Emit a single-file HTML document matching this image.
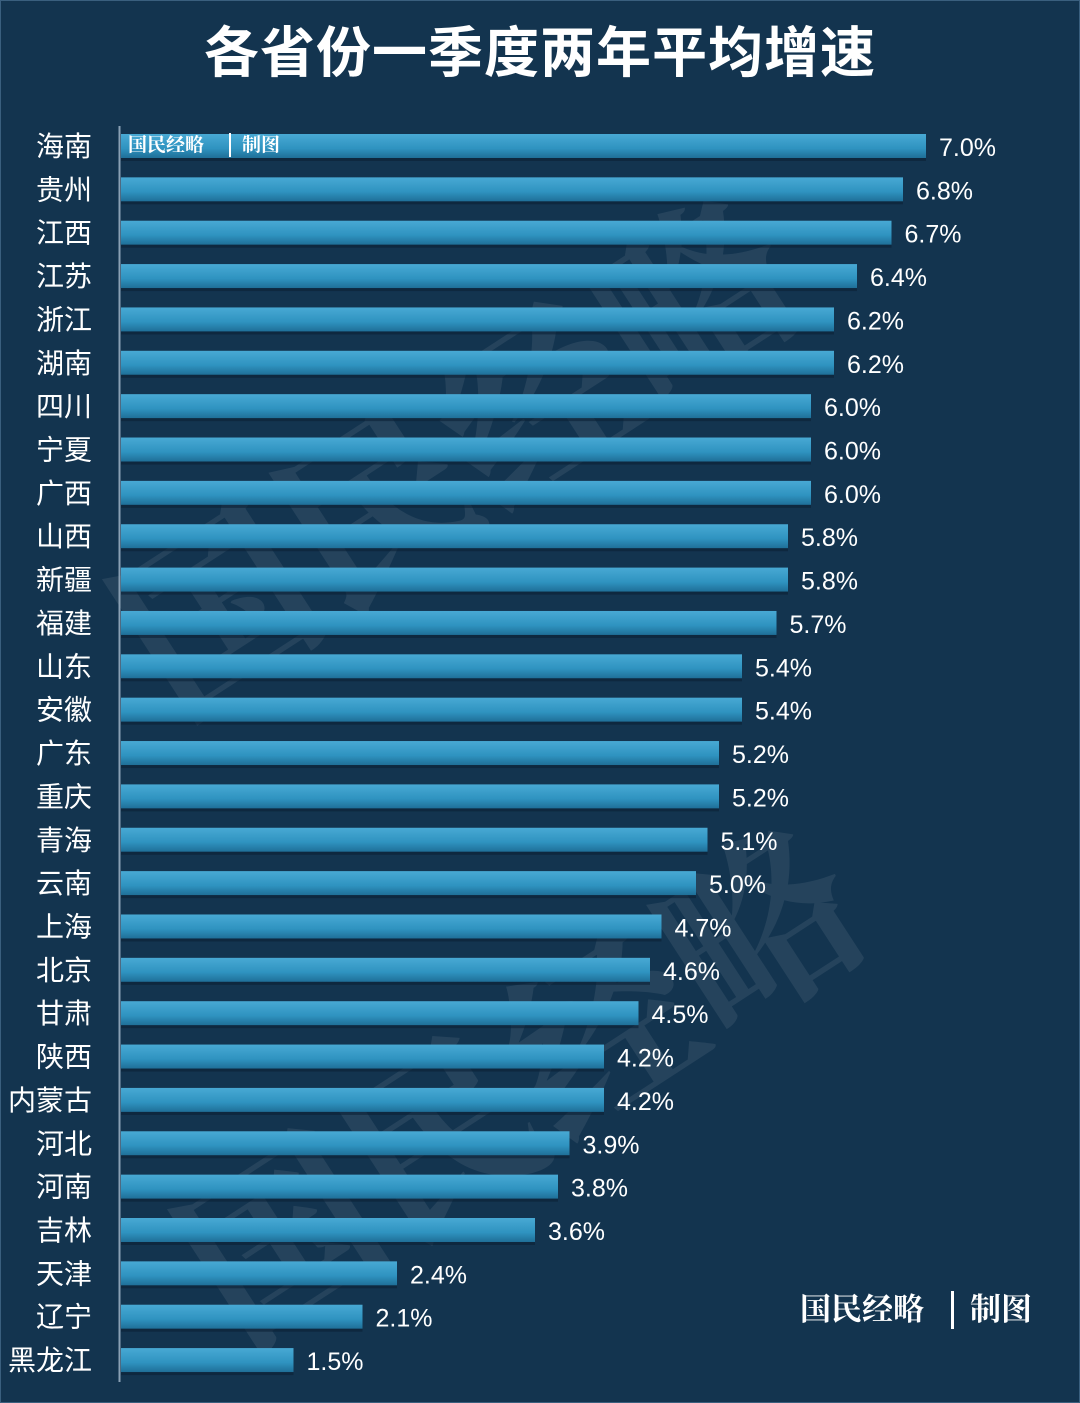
<!DOCTYPE html><html><head><meta charset="utf-8"><style>
body{margin:0;background:#13344f;}
svg{display:block}
</style></head><body>
<svg width="1080" height="1403" xmlns="http://www.w3.org/2000/svg" font-family="Liberation Sans, Noto Sans CJK SC, sans-serif">
<defs><linearGradient id="g" x1="0" y1="0" x2="0" y2="1"><stop offset="0" stop-color="#48a9d4"/><stop offset="0.6" stop-color="#2f93c0"/><stop offset="1" stop-color="#1f6f98"/></linearGradient></defs>
<rect width="1080" height="1403" fill="#13344f"/>
<rect x="0.5" y="0.5" width="1079" height="1402" fill="none" stroke="#3a5f7e"/>
<text x="540" y="72" text-anchor="middle" font-size="55" font-weight="bold" fill="#fff" font-family="Noto Sans CJK SC, sans-serif" letter-spacing="1">各省份一季度两年平均增速</text>
<g font-family="Noto Serif CJK SC, serif" font-weight="bold" fill="#fff" fill-opacity="0.08" font-size="190">
<text transform="translate(175,720) rotate(-33)">国民经略</text>
<text transform="translate(240,1350) rotate(-33)">国民经略</text>
</g>
<line x1="119.5" y1="126" x2="119.5" y2="1382" stroke="#8aa0b4" stroke-width="2"/>
<g id="bars"></g>
<text x="128" y="151" font-size="19" font-weight="bold" fill="#fff" font-family="Noto Serif CJK SC, serif">国民经略</text>
<rect x="229" y="133" width="2" height="24" fill="#fff"/>
<text x="242" y="151" font-size="19" font-weight="bold" fill="#fff" font-family="Noto Serif CJK SC, serif">制图</text>
<text x="800" y="1320" font-size="31" font-weight="bold" fill="#fff" font-family="Noto Serif CJK SC, serif">国民经略</text>
<rect x="951" y="1291" width="3" height="38" fill="#fff"/>
<text x="970" y="1320" font-size="31" font-weight="bold" fill="#fff" font-family="Noto Serif CJK SC, serif">制图</text>
</svg>
<script>
var d=[["海南",7.0],["贵州",6.8],["江西",6.7],["江苏",6.4],["浙江",6.2],["湖南",6.2],["四川",6.0],["宁夏",6.0],["广西",6.0],["山西",5.8],["新疆",5.8],["福建",5.7],["山东",5.4],["安徽",5.4],["广东",5.2],["重庆",5.2],["青海",5.1],["云南",5.0],["上海",4.7],["北京",4.6],["甘肃",4.5],["陕西",4.2],["内蒙古",4.2],["河北",3.9],["河南",3.8],["吉林",3.6],["天津",2.4],["辽宁",2.1],["黑龙江",1.5]];
var g=document.getElementById('bars'),h="";
d.forEach(function(r,i){var c=146+i*43.36,w=r[1]*115;
h+='<rect x="121" y="'+(c-12)+'" width="'+w+'" height="24" fill="url(#g)"/>';
h+='<rect x="121" y="'+(c+12)+'" width="'+w+'" height="3" fill="#0c2236" opacity="0.6"/>';
h+='<text x="92" y="'+(c+10)+'" text-anchor="end" font-size="28" fill="#fff" font-family="Noto Sans CJK SC, sans-serif">'+r[0]+'</text>';
h+='<text x="'+(121+w+13)+'" y="'+(c+10)+'" font-size="25" fill="#fff">'+r[1].toFixed(1)+'%</text>';});
g.innerHTML=h;
</script>
</body></html>
